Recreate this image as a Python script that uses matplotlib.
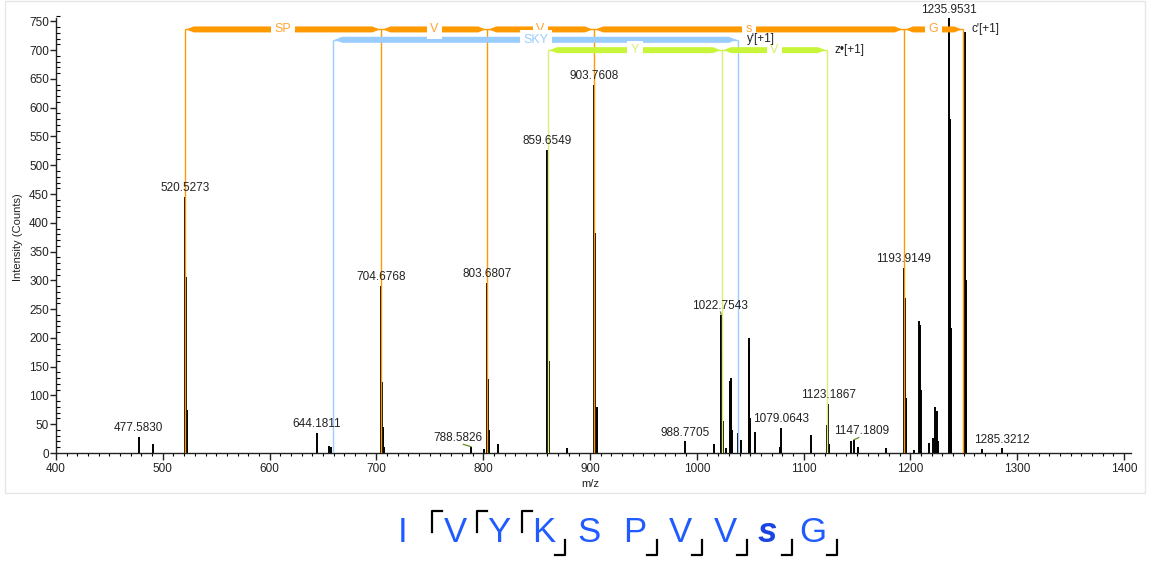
import matplotlib
matplotlib.use("Agg")
import matplotlib.pyplot as plt
from matplotlib.patches import Polygon, Rectangle
from matplotlib.lines import Line2D
from matplotlib.ticker import MultipleLocator

plt.rcParams['font.family'] = ['Liberation Sans', 'DejaVu Sans']

W, H = 1169, 561

# ---- centroid peaks (m/z, intensity in counts) ----
peak_mz = [
    477.5830, 490.6,
    520.5273, 521.4, 522.2, 523.0,
    644.1811, 655.6, 657.4,
    704.6768, 705.5, 706.3, 707.1,
    788.5826, 800.7,
    803.6807, 804.5, 805.3, 813.5,
    859.6549, 860.4, 861.2, 862.0, 878.5,
    903.7608, 904.6, 906.2,
    988.7705, 1016.0,
    1022.7543, 1023.6, 1024.4, 1027.0,
    1031.0, 1031.8, 1032.6,
    1038.6, 1041.0,
    1048.5, 1049.3, 1050.1, 1054.5,
    1077.6, 1079.0643,
    1106.6,
    1121.6, 1123.1867, 1124.2,
    1144.2, 1147.1809, 1150.5,
    1177.0,
    1193.9149, 1194.7, 1195.5,
    1203.6,
    1208.4, 1209.2, 1210.0,
    1217.7, 1221.4, 1222.7, 1224.6, 1226.0,
    1235.9531, 1236.8, 1237.6, 1238.4,
    1250.9, 1251.7, 1252.5,
    1266.7, 1285.3212,
]
peak_int = [
    28, 15,
    445, 306, 75, 13,
    35, 12, 10,
    290, 123, 45, 10,
    10, 7,
    296, 128, 40, 15,
    527, 392, 160, 40, 8,
    640, 383, 80,
    20, 16,
    240, 170, 55, 9,
    125, 130, 40,
    35, 22,
    200, 185, 60, 36,
    10, 43,
    31,
    48, 85, 15,
    21, 22, 10,
    8,
    321, 270, 95,
    5,
    230, 222, 110,
    17, 26, 80, 73, 20,
    755, 580, 218, 40,
    731, 300, 100,
    7, 8,
]

# peaks carrying an m/z annotation, with horizontal label shift (m/z units)
label_mz = [477.5830, 520.5273, 644.1811, 704.6768, 788.5826, 803.6807,
            859.6549, 903.7608, 988.7705, 1022.7543, 1079.0643, 1123.1867,
            1147.1809, 1193.9149, 1235.9531, 1285.3212]
label_shift = {788.5826: -12.0, 1147.1809: 7.5, 1022.7543: -1.0}

# ---- fragment ladders ----
c_mz = [520.5273, 704.6768, 803.6807, 903.7608, 1193.9149, 1249.6]
c_res = ['SP', 'V', 'V', 's', 'G']
y_mz = [659.4, 1038.6]
y_res = ['SKY']
z_mz = [860.7, 1023.6, 1121.9]
z_res = ['Y', 'V']

# peptide sequence shown under the spectrum
seq_letters = ['I', 'V', 'Y', 'K', 'S', 'P', 'V', 'V', 's', 'G']
seq_x = [403, 455, 499, 544, 589, 635, 680, 725, 767, 813]
open_marks_x = [431.7, 476.7, 521.7]
close_marks_x = [565.0, 656.7, 701.7, 746.7, 791.7, 836.7]

ORANGE = '#FF9900'
BLUE = '#99CCFF'
GREEN = '#C8F53A'
GREEN_LINE = '#DDEE77'

fig = plt.figure(figsize=(W / 100, H / 100), dpi=100)

# axes placement in pixels
x0, x1, ybase, ytop = 56, 1131, 453, 15
px_per_mz = 1.068
px_per_count = 0.5755
ax = fig.add_axes([x0 / W, 1 - ybase / H, (x1 - x0) / W, (ybase - ytop) / H])

for s in ('top', 'right'):
    ax.spines[s].set_visible(False)
ax.spines['left'].set_bounds(0, 755)
for s in ('left', 'bottom'):
    ax.spines[s].set_linewidth(1.0)
    ax.spines[s].set_color('#222222')

ax.xaxis.set_major_locator(MultipleLocator(100))
ax.xaxis.set_minor_locator(MultipleLocator(10))
ax.yaxis.set_major_locator(MultipleLocator(50))
ax.yaxis.set_minor_locator(MultipleLocator(10))
ax.tick_params(axis='x', which='major', direction='out', length=5, width=1,
               labelsize=8.5, pad=2, colors='#222222')
ax.tick_params(axis='x', which='minor', direction='out', length=2.5, width=0.8)
ax.tick_params(axis='y', which='major', direction='out', length=4, width=1,
               labelsize=8.5, pad=1, colors='#222222')
ax.tick_params(axis='y', which='minor', direction='in', length=3, width=0.8)
ax.set_xlim(400, 400 + (x1 - x0) / px_per_mz)
ax.set_ylim(0, (ybase - ytop) / px_per_count)

# spectrum
ax.vlines(peak_mz, 0, peak_int, color='black', lw=1.4, zorder=2)


def ladder(xs, names, level, color, line_color, text_color):
    hh = 5.2
    head = 7.0
    pad = 1.5
    ax.hlines(level, xs[0], xs[-1], color=color, lw=1, zorder=3)
    for x in xs:
        ax.vlines(x, 0, level, color=line_color, lw=1.0, zorder=3)
    for a, b, nm in zip(xs[:-1], xs[1:], names):
        l, r = a + pad, b - pad
        poly = [(l, level), (l + head, level + hh), (r - head, level + hh),
                (r, level), (r - head, level - hh), (l + head, level - hh)]
        ax.add_patch(Polygon(poly, closed=True, fc=color, ec='none', zorder=3))
        ax.text((a + b) / 2, level, nm, color=text_color, fontsize=9,
                ha='center', va='center', zorder=4,
                bbox=dict(fc='white', ec='none', pad=2.5))


ladder(c_mz, c_res, 736, ORANGE, ORANGE, '#FFA533')
ladder(y_mz, y_res, 718, BLUE, BLUE, '#99CCFF')
ladder(z_mz, z_res, 700, GREEN, GREEN_LINE, '#D6F070')

ax.text(1257.5, 737, "c'[+1]", fontsize=8.5, ha='left', va='center', color='#222222', zorder=5)
ax.text(1047.0, 719, "y'[+1]", fontsize=8.5, ha='left', va='center', color='#222222', zorder=5)
ax.text(1129.4, 700, "z\u2022[+1]", fontsize=8.5, ha='left', va='center', color='#222222', zorder=5)

# peak annotations
lookup = dict(zip(peak_mz, peak_int))
for m in label_mz:
    h = lookup[m]
    dx = label_shift.get(m, 0.0)
    ax.text(m + dx, h + 5, f"{m:.4f}", fontsize=8.5, ha='center', va='bottom',
            color='#222222', zorder=6)
    if dx:
        ax.plot([m, m + dx * 0.6], [h + 1, h + 5], color='#6B8E23', lw=0.9, zorder=5)

# axis titles
fig.text(18 / W, 1 - 237 / H, 'Intensity (Counts)', rotation=90, fontsize=8,
         ha='center', va='center', color='#222222')
fig.text(590 / W, 1 - 484 / H, 'm/z', fontsize=8, ha='center', va='center',
         color='#222222')

# light frame around the plot panel
fig.patches.append(Rectangle((5 / W, 1 - 493 / H), (1145 - 5) / W, 493 / H - 0.001,
                             transform=fig.transFigure, fill=False,
                             ec='#E6E6E6', lw=1))

# peptide sequence with fragment marks
SEQ_BLUE = '#1F5BFF'
for ch, x in zip(seq_letters, seq_x):
    if ch == 's':
        fig.text(x / W, 1 - 532 / H, ch, fontsize=25, ha='center', va='center',
                 color='#1A45E0', fontweight='bold', fontstyle='italic')
    else:
        fig.text(x / W, 1 - 532 / H, ch, fontsize=25, ha='center', va='center',
                 color=SEQ_BLUE)


def fig_line(xs, ys):
    fig.add_artist(Line2D([v / W for v in xs], [1 - v / H for v in ys],
                          transform=fig.transFigure, color='black', lw=1.6))


for x in open_marks_x:
    fig_line([x, x, x + 10], [532, 511, 511])
for x in close_marks_x:
    fig_line([x - 10, x, x], [555, 555, 540])

fig.savefig('out.png', dpi=100, facecolor='white')
